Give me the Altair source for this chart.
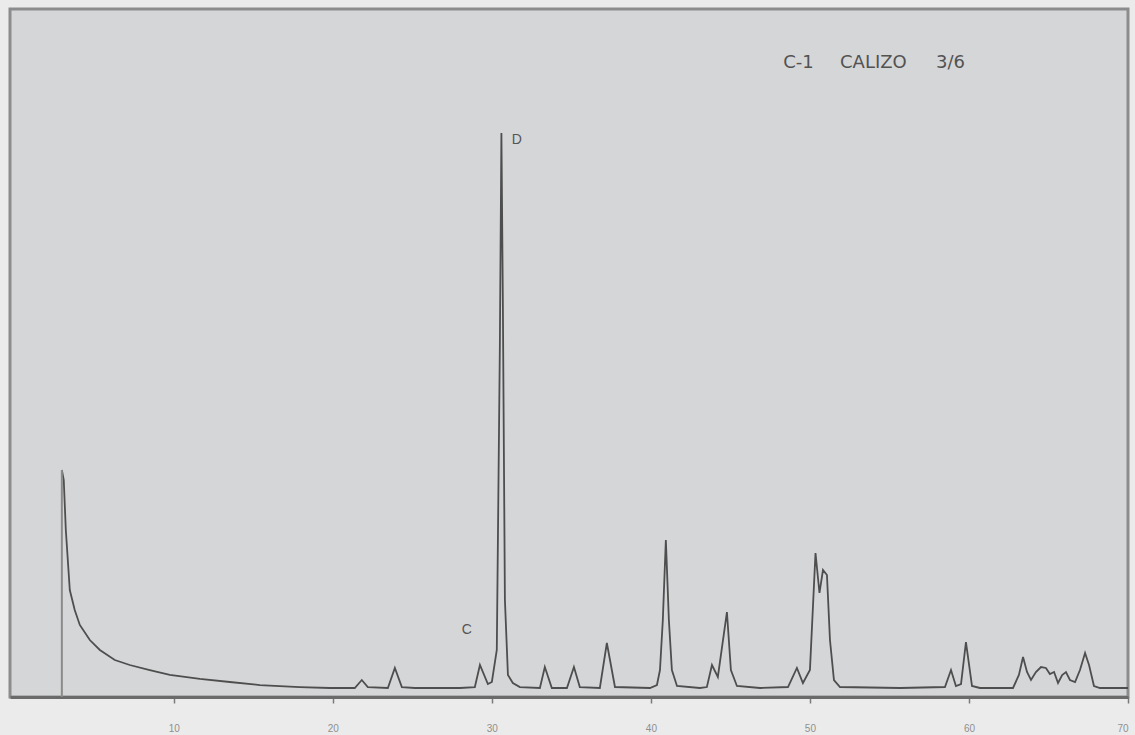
import altair as alt
import pandas as pd

# Diffractogram trace: 2-theta (degrees) and intensity (arbitrary units)
two_theta = [
    2.96, 2.96, 3.08, 3.21, 3.46, 3.77, 4.09, 4.72, 5.35, 6.29, 7.23, 8.49, 9.75,
    11.64, 13.52, 15.41, 17.92, 19.81,
    21.38, 21.82, 22.20, 23.46, 23.90, 24.34, 25.16, 27.99,
    28.93, 29.25, 29.75, 30.00, 30.31, 30.50, 30.60, 30.69, 30.82, 31.01, 31.32, 31.76,
    33.02, 33.33, 33.77, 34.72, 35.16, 35.53, 36.79, 37.23, 37.74,
    39.94, 40.38, 40.57, 40.75, 40.94, 41.13, 41.32, 41.64,
    43.08, 43.52, 43.84, 44.21, 44.78, 45.03, 45.41, 46.86,
    48.62, 49.18, 49.56, 50.00, 50.35, 50.60, 50.82, 51.07, 51.26, 51.51, 51.89,
    55.66, 58.49, 58.87, 59.18, 59.50, 59.81, 60.19, 60.69,
    62.77, 63.14, 63.40, 63.65, 63.90, 64.21, 64.53, 64.84, 65.09, 65.35, 65.60,
    65.86, 66.10, 66.35, 66.67, 66.98, 67.30, 67.55, 67.86, 68.24, 70.00,
]
intensity = [
    0.00, 32.99, 31.54, 24.27, 15.55, 12.65, 10.47, 8.28, 6.83, 5.38, 4.65, 3.92, 3.20,
    2.62, 2.18, 1.74, 1.45, 1.31,
    1.31, 2.47, 1.45, 1.31, 4.22, 1.45, 1.31, 1.31,
    1.45, 4.65, 1.89, 2.18, 6.83, 50.44, 81.98, 57.70, 14.10, 3.20, 2.03, 1.45,
    1.31, 4.36, 1.31, 1.31, 4.36, 1.45, 1.31, 7.85, 1.45,
    1.31, 1.74, 3.92, 11.19, 22.82, 11.19, 3.92, 1.60,
    1.31, 1.45, 4.65, 2.91, 12.35, 3.92, 1.60, 1.31,
    1.45, 4.22, 2.03, 3.92, 20.93, 15.12, 18.46, 17.73, 8.28, 2.47, 1.45,
    1.31, 1.45, 3.92, 1.60, 1.89, 7.99, 1.60, 1.31,
    1.31, 3.20, 5.81, 3.63, 2.47, 3.63, 4.36, 4.22, 3.34, 3.63, 2.03,
    3.20, 3.63, 2.47, 2.18, 3.92, 6.40, 4.65, 1.60, 1.31, 1.31,
]

# Phase labels (D = dolomite, C = calcite) placed beside their peaks
phase_labels = ["D", "C"]
phase_x = [31.57, 28.43]
phase_y = [80.96, 9.74]

# Sample identification, one word per entry
sample_words = ["C-1", "CALIZO", "3/6"]
sample_x = [49.28, 53.99, 58.84]
sample_y = [92.15, 92.15, 92.15]

tick_values = [10, 20, 30, 40, 50, 60, 70]

trace = pd.DataFrame({"two_theta": two_theta[1:], "intensity": intensity[1:]})
scan_start = pd.DataFrame(
    {"two_theta": [two_theta[0]], "lo": [intensity[0]], "hi": [intensity[1]]}
)
phases = pd.DataFrame({"two_theta": phase_x, "intensity": phase_y, "label": phase_labels})
sample = pd.DataFrame({"two_theta": sample_x, "intensity": sample_y, "label": sample_words})

x_scale = alt.Scale(domain=[-0.3, 70.0], nice=False, zero=False)
y_scale = alt.Scale(domain=[0, 100], nice=False, zero=False)

x_enc = alt.X(
    "two_theta:Q",
    scale=x_scale,
    axis=alt.Axis(
        values=tick_values,
        title=None,
        grid=False,
        domainColor="#6a6a6a",
        domainWidth=3,
        tickColor="#7a7a7a",
        tickWidth=1.5,
        tickSize=6,
        labelColor="#8f8f8f",
        labelFontSize=10,
        labelFont="Liberation Sans",
        labelPadding=20,
    ),
)
y_enc = alt.Y("intensity:Q", scale=y_scale, axis=None)

line = alt.Chart(trace).mark_line(
    color="#4e4e4e", strokeWidth=1.8, interpolate="linear"
).encode(x=x_enc, y=y_enc, order=alt.Order("idx:Q")).transform_window(
    idx="row_number()"
)

# Vertical jump at the start of the scan, drawn lighter
start_rule = alt.Chart(scan_start).mark_rule(color="#8a8a8a", strokeWidth=2).encode(
    x=alt.X("two_theta:Q", scale=x_scale),
    y=alt.Y("lo:Q", scale=y_scale),
    y2=alt.Y2("hi:Q"),
)

phase_text = alt.Chart(phases).mark_text(
    font="Liberation Sans", fontSize=14, color="#555555", align="center", baseline="middle"
).encode(
    x=alt.X("two_theta:Q", scale=x_scale),
    y=alt.Y("intensity:Q", scale=y_scale),
    text="label:N",
)

sample_text = alt.Chart(sample).mark_text(
    font="DejaVu Sans", fontSize=18, color="#525252", align="center", baseline="middle"
).encode(
    x=alt.X("two_theta:Q", scale=x_scale),
    y=alt.Y("intensity:Q", scale=y_scale),
    text="label:N",
)

chart = alt.layer(line, start_rule, phase_text, sample_text).properties(
    width=1118,
    height=688,
    autosize=alt.AutoSizeParams(type="none"),
    padding={"left": 10, "top": 9, "right": 7, "bottom": 38},
    background="#ebebeb",
).configure_view(
    fill="#d5d6d8", stroke="#8c8c8c", strokeWidth=3
)

chart.save("out.html", embed_options={"renderer": "svg", "actions": False})
